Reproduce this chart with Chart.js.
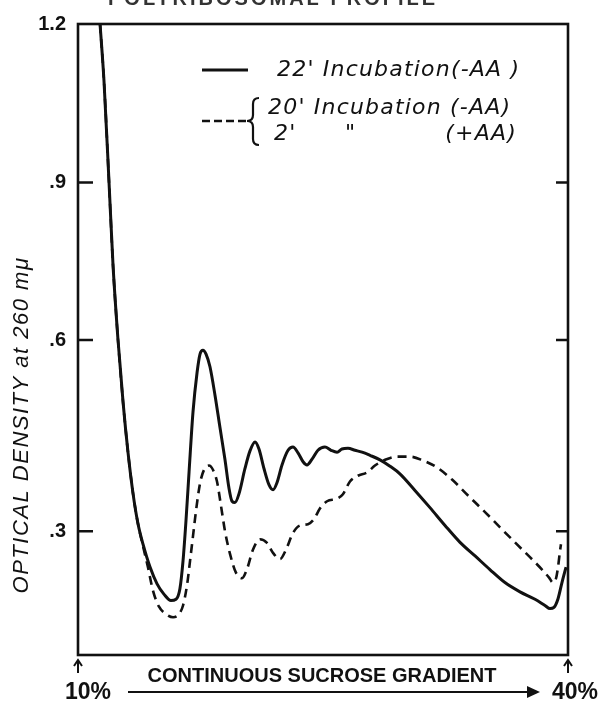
<!DOCTYPE html>
<html><head><meta charset="utf-8">
<script src="https://cdn.jsdelivr.net/npm/chart.js@4/dist/chart.umd.min.js"></script>
<style>html,body{margin:0;padding:0;background:#fff;}canvas{display:block}</style>
</head><body>
<canvas id="c" width="605" height="702"></canvas>
<script>
// ---- data (sucrose % along gradient, optical density at 260 mµ) ----
const solidX = [11.35,11.59,11.90,12.14,12.45,12.76,13.06,13.37,13.67,13.98,14.41,14.84,15.27,15.69,16.00,16.24,16.43,16.61,16.80,17.04,17.29,17.47,17.65,17.84,18.08,18.39,18.69,19.00,19.24,19.43,19.61,19.86,20.22,20.53,20.84,21.08,21.39,21.69,21.94,22.18,22.49,22.86,23.16,23.47,23.78,24.02,24.33,24.69,25.12,25.49,25.86,26.16,26.53,26.96,27.39,27.88,28.49,29.10,29.71,30.63,31.55,32.47,33.39,34.31,35.22,36.14,37.06,37.98,38.59,38.90,39.14,39.39,39.63,39.88];
const solidY = [1.2,1.093,0.9,0.745,0.6,0.502,0.424,0.359,0.312,0.279,0.242,0.215,0.198,0.188,0.190,0.207,0.252,0.316,0.393,0.487,0.549,0.578,0.584,0.578,0.558,0.513,0.463,0.412,0.368,0.347,0.345,0.359,0.398,0.426,0.440,0.429,0.398,0.373,0.365,0.376,0.404,0.427,0.432,0.423,0.409,0.404,0.413,0.427,0.432,0.427,0.424,0.429,0.430,0.427,0.424,0.419,0.412,0.402,0.390,0.364,0.337,0.309,0.282,0.260,0.238,0.217,0.202,0.190,0.180,0.175,0.177,0.191,0.217,0.242];
const dashedX = [11.35,11.59,11.90,12.14,12.45,12.76,13.06,13.37,13.67,13.98,14.29,14.59,14.96,15.39,15.82,16.18,16.43,16.67,16.86,17.04,17.22,17.47,17.71,18.02,18.27,18.51,18.76,19.00,19.31,19.67,20.04,20.35,20.71,21.14,21.57,21.94,22.37,22.73,23.16,23.59,24.08,24.45,24.82,25.25,25.86,26.22,26.65,27.14,27.69,28.18,28.80,29.53,30.33,31.12,31.98,32.90,33.88,34.92,35.84,36.75,37.67,38.41,38.84,39.08,39.27,39.39,39.51,39.57];
const dashedY = [1.2,1.093,0.9,0.745,0.6,0.502,0.424,0.359,0.312,0.276,0.241,0.204,0.178,0.166,0.161,0.166,0.180,0.212,0.252,0.292,0.331,0.375,0.396,0.403,0.396,0.378,0.339,0.300,0.263,0.233,0.224,0.239,0.270,0.287,0.281,0.265,0.255,0.270,0.297,0.309,0.311,0.319,0.336,0.347,0.351,0.358,0.378,0.387,0.392,0.403,0.412,0.417,0.417,0.411,0.400,0.381,0.356,0.330,0.306,0.282,0.258,0.238,0.225,0.217,0.224,0.242,0.268,0.279];
const yTickValues = [0.3, 0.6, 0.9, 1.2];
const yTickLabels = ['.3', '.6', '.9', '1.2'];
const xEndValues = [10, 40];
const xEndLabels = ['10%', '40%'];
const solidName = "22' Incubation(-AA )";
const dashedNames = ["20' Incubation (-AA)", "2'", '"', "(+AA)"];
const yTitle = 'OPTICAL DENSITY at 260 mμ';
const xTitle = 'CONTINUOUS SUCROSE GRADIENT';
const topTitle = 'POLYRIBOSOMAL PROFILE';

// ---- hand-drawn (uneven) axis: piecewise-linear value scale ----
const Y_MIN = 0.1, Y_MAX = 1.2;
const anchorVals = [0.1, 0.3, 0.6, 0.9, 1.2];
const anchorFracFromTop = [1.0, 0.8038, 0.5008, 0.2512, 0.0];

class PiecewiseScale extends Chart.LinearScale {
  getPixelForValue(v) {
    let i = 0;
    while (i < anchorVals.length - 2 && v > anchorVals[i + 1]) i++;
    const t = (v - anchorVals[i]) / (anchorVals[i + 1] - anchorVals[i]);
    const f = anchorFracFromTop[i] + t * (anchorFracFromTop[i + 1] - anchorFracFromTop[i]);
    return this.top + f * (this.bottom - this.top);
  }
  getValueForPixel(p) {
    const f = (p - this.top) / (this.bottom - this.top);
    let i = 0;
    while (i < anchorVals.length - 2 && f < anchorFracFromTop[i + 1]) i++;
    const t = (f - anchorFracFromTop[i]) / (anchorFracFromTop[i + 1] - anchorFracFromTop[i]);
    return anchorVals[i] + t * (anchorVals[i + 1] - anchorVals[i]);
  }
}
PiecewiseScale.id = 'piecewise';
PiecewiseScale.defaults = Chart.LinearScale.defaults;
Chart.register(PiecewiseScale);

const INK = '#111';

const decor = {
  id: 'decor',
  afterDraw(chart) {
    const ctx = chart.ctx, a = chart.chartArea;
    const ys = chart.scales.y, xs = chart.scales.x;
    ctx.save();
    ctx.strokeStyle = INK; ctx.fillStyle = INK;
    ctx.lineCap = 'butt';
    // frame
    ctx.lineWidth = 2.6;
    ctx.strokeRect(a.left, a.top, a.right - a.left, a.bottom - a.top);
    // inward tick marks, both sides
    yTickValues.forEach(v => {
      if (v >= Y_MAX) return;
      const py = ys.getPixelForValue(v);
      ctx.beginPath();
      ctx.moveTo(a.left, py); ctx.lineTo(a.left + 15, py);
      ctx.moveTo(a.right, py); ctx.lineTo(a.right - 12, py);
      ctx.stroke();
    });

    // top title (cut off by the page edge in the source)
    ctx.font = 'bold 20px "Liberation Sans", Arial, sans-serif';
    ctx.letterSpacing = '3px';
    ctx.textAlign = 'left'; ctx.textBaseline = 'alphabetic';
    ctx.fillStyle = '#333';
    ctx.fillText(topTitle, 108, 5);
    ctx.fillStyle = INK;

    // legend
    ctx.font = 'italic 22px "DejaVu Sans", sans-serif';
    ctx.letterSpacing = '1.2px';
    ctx.textBaseline = 'middle';
    ctx.lineWidth = 3;
    ctx.beginPath(); ctx.moveTo(202, 70); ctx.lineTo(248, 70); ctx.stroke();
    ctx.fillText(solidName, 277, 70);
    ctx.lineWidth = 2.6;
    ctx.setLineDash([8, 4]);
    ctx.beginPath(); ctx.moveTo(202, 121); ctx.lineTo(246, 121); ctx.stroke();
    ctx.setLineDash([]);
    ctx.lineWidth = 2.2;
    ctx.beginPath();
    ctx.moveTo(259, 98);
    ctx.quadraticCurveTo(253, 98, 253, 104);
    ctx.lineTo(253, 115);
    ctx.quadraticCurveTo(253, 121, 247, 121);
    ctx.quadraticCurveTo(253, 121, 253, 127);
    ctx.lineTo(253, 139);
    ctx.quadraticCurveTo(253, 145, 259, 145);
    ctx.stroke();
    ctx.fillText(dashedNames[0], 268, 108);
    ctx.fillText(dashedNames[1], 274, 134);
    ctx.fillText(dashedNames[2], 345, 134);
    ctx.textAlign = 'right';
    ctx.fillText(dashedNames[3], 517, 134);

    // y-axis title
    ctx.save();
    ctx.translate(22, 425);
    ctx.rotate(-Math.PI / 2);
    ctx.textAlign = 'center';
    ctx.font = 'italic 22px "Liberation Sans", Arial, sans-serif';
    ctx.letterSpacing = '1.5px';
    ctx.fillText(yTitle, 0, 0);
    ctx.restore();

    // x-axis annotations
    ctx.lineWidth = 2;
    xEndValues.forEach((v, i) => {
      const px = xs.getPixelForValue(v);
      ctx.beginPath(); ctx.moveTo(px, 673); ctx.lineTo(px, 661); ctx.stroke();
      ctx.beginPath(); ctx.moveTo(px - 4, 666); ctx.lineTo(px, 660); ctx.lineTo(px + 4, 666); ctx.stroke();
      ctx.font = 'bold 23px "Liberation Sans", Arial, sans-serif';
      ctx.letterSpacing = '0px';
      ctx.textAlign = 'left'; ctx.textBaseline = 'middle';
      ctx.fillText(xEndLabels[i], px - (i === 0 ? 13 : 16), 693);
    });
    ctx.font = 'bold 20px "Liberation Sans", Arial, sans-serif';
    ctx.letterSpacing = '0px';
    ctx.textAlign = 'center'; ctx.textBaseline = 'middle';
    ctx.fillText(xTitle, 322, 676);
    ctx.lineWidth = 2;
    ctx.beginPath(); ctx.moveTo(128, 692); ctx.lineTo(532, 692); ctx.stroke();
    ctx.beginPath(); ctx.moveTo(540, 692); ctx.lineTo(527, 686); ctx.lineTo(527, 698); ctx.closePath(); ctx.fill();
    ctx.restore();
  }
};

new Chart(document.getElementById('c'), {
  type: 'line',
  data: {
    datasets: [
      { label: solidName, data: solidX.map((x, i) => ({ x, y: solidY[i] })),
        borderColor: INK, borderWidth: 3, pointRadius: 0, cubicInterpolationMode: 'monotone', fill: false },
      { label: dashedNames[0], data: dashedX.map((x, i) => ({ x, y: dashedY[i] })),
        borderColor: INK, borderWidth: 2.6, borderDash: [9, 6], pointRadius: 0, cubicInterpolationMode: 'monotone', fill: false }
    ]
  },
  options: {
    responsive: false, animation: false, devicePixelRatio: 1,
    layout: { padding: { top: 18, right: 37, bottom: 47, left: 0 } },
    plugins: { legend: { display: false }, tooltip: { enabled: false }, title: { display: false } },
    scales: {
      x: { type: 'linear', min: 10, max: 40, display: false },
      y: {
        type: 'piecewise', min: Y_MIN, max: Y_MAX,
        grid: { display: false, drawTicks: false },
        border: { display: false },
        afterFit(s) { s.width = 78; },
        afterBuildTicks(s) { s.ticks = yTickValues.map(v => ({ value: v })); },
        ticks: {
          padding: 12, color: INK,
          font: { family: '"Liberation Sans", Arial, sans-serif', size: 20, weight: 'bold' },
          callback: (v) => { const k = yTickValues.indexOf(v); return k >= 0 ? yTickLabels[k] : ''; }
        }
      }
    }
  },
  plugins: [decor]
});
</script>
</body></html>
